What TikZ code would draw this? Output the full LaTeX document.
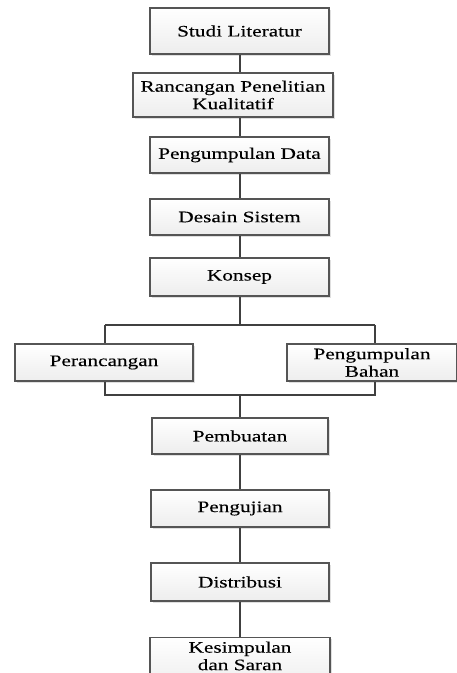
\documentclass[tikz,border=0pt]{standalone}
\usepackage{fontspec}
\setmainfont{Liberation Serif}
\newfontfamily\lblfont[FakeStretch=1.33,FakeBold=0.2]{Liberation Serif}
\usetikzlibrary{shadows}
\definecolor{edge}{HTML}{555555}
\definecolor{wire}{HTML}{404040}
\tikzset{
  stepbox/.style={draw=edge, line width=1.1pt, top color=white, bottom color=gray!14,
    drop shadow={shadow xshift=1.5pt, shadow yshift=-1.5pt, opacity=0.25, fill=gray},
    align=center, inner sep=0pt,
    font=\lblfont\fontsize{16}{17.5}\selectfont},
  wireline/.style={draw=wire, line width=1.1pt}
}
\begin{document}
\begin{tikzpicture}[x=1pt,y=-1pt]
\useasboundingbox (0,0) rectangle (457,673);
\clip (0,0) rectangle (457,673);
\node[stepbox, minimum width=179pt, minimum height=46pt] (s1) at (239.5,31) {Studi Literatur};
\node[stepbox, minimum width=200pt, minimum height=44pt] (s2) at (233,95) {Rancangan Penelitian\\Kualitatif};
\node[stepbox, minimum width=179pt, minimum height=36pt] (s3) at (239.5,155) {Pengumpulan Data};
\node[stepbox, minimum width=179pt, minimum height=36pt] (s4) at (239.5,217) {Desain Sistem};
\node[stepbox, minimum width=179pt, minimum height=38pt] (s5) at (239.5,277) {Konsep};
\node[stepbox, minimum width=178pt, minimum height=37pt] (pl) at (104,362.5) {Perancangan};
\node[stepbox, minimum width=170pt, minimum height=37pt] (pr) at (372,362.5) {Pengumpulan\\Bahan};
\node[stepbox, minimum width=176pt, minimum height=36pt] (s6) at (240,436) {Pembuatan};
\node[stepbox, minimum width=178pt, minimum height=37pt] (s7) at (240,508.5) {Pengujian};
\node[stepbox, minimum width=178pt, minimum height=38pt] (s8) at (240,582) {Distribusi};
\node[stepbox, minimum width=180pt, inner ysep=4pt, anchor=north, text depth=14pt] (s9) at (240,637) {Kesimpulan\\dan Saran};
\coordinate (tl) at (105,325);
\coordinate (tr) at (375,325);
\coordinate (tm) at (240,325);
\coordinate (bl) at (105,395);
\coordinate (br) at (375,395);
\coordinate (bm) at (240,395);
\draw[wireline] (s1.south -| 240,0) -- (s2.north -| 240,0);
\draw[wireline] (s2.south -| 240,0) -- (s3.north -| 240,0);
\draw[wireline] (s3.south -| 240,0) -- (s4.north -| 240,0);
\draw[wireline] (s4.south -| 240,0) -- (s5.north -| 240,0);
\draw[wireline] (s5.south -| tm) -- (tm);
\draw[wireline] (tl) -- (tr);
\draw[wireline] (tl) -- (pl.north -| tl);
\draw[wireline] (tr) -- (pr.north -| tr);
\draw[wireline] (pl.south -| bl) -- (bl) -- (br) -- (pr.south -| br);
\draw[wireline] (bm) -- (s6.north -| bm);
\draw[wireline] (s6) -- (s7);
\draw[wireline] (s7) -- (s8);
\draw[wireline] (s8) -- (s9);
\end{tikzpicture}
\end{document}
